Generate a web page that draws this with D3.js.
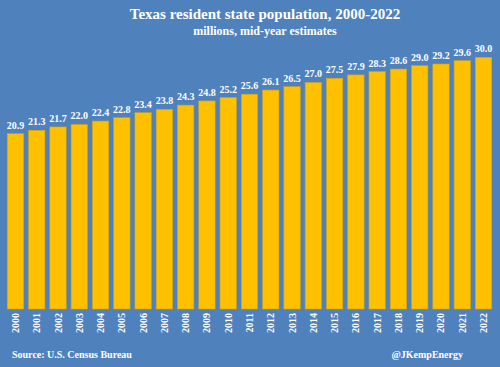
<!DOCTYPE html>
<html lang="en">
<head>
    <meta charset="utf-8"/>
    <title>Texas resident state population</title>
    <script src="https://d3js.org/d3.v7.min.js"></script>
    <style>
        body { margin: 0; background: #4f81bd; }
        #chart { width: 500px; height: 367px; }
        text { font-family: "Liberation Serif", serif; font-weight: bold; fill: #fff; }
    </style>
</head>
<body>
    <div id="chart"></div>

    <script>
        const years = ["2000","2001","2002","2003","2004","2005","2006","2007","2008","2009","2010","2011",
                       "2012","2013","2014","2015","2016","2017","2018","2019","2020","2021","2022"];
        const population = [20.9, 21.3, 21.7, 22.0, 22.4, 22.8, 23.4, 23.8, 24.3, 24.8, 25.2, 25.6,
                            26.1, 26.5, 27.0, 27.5, 27.9, 28.3, 28.6, 29.0, 29.2, 29.6, 30.0];

        const width = 500, height = 367;
        const svg = d3.select('#chart').append('svg')
            .attr('width', width)
            .attr('height', height);

        svg.append('rect').attr('width', width).attr('height', height).attr('fill', '#4f81bd');

        // titles
        svg.append('text')
            .attr('x', 265).attr('y', 19)
            .attr('text-anchor', 'middle')
            .style('font-size', '15px')
            .text('Texas resident state population, 2000-2022');
        svg.append('text')
            .attr('x', 265).attr('y', 35)
            .attr('text-anchor', 'middle')
            .style('font-size', '12px')
            .text('millions, mid-year estimates');

        const x = d3.scaleBand()
            .domain(years)
            .range([3, 496])
            .paddingInner(0.23)
            .paddingOuter(0.2);

        const y = d3.scaleLinear()
            .domain([0, 30])
            .range([309, 57.3]);

        // bars
        svg.selectAll('.bar')
            .data(population)
            .enter().append('rect')
            .attr('class', 'bar')
            .attr('x', (d, i) => x(years[i]))
            .attr('y', d => y(d))
            .attr('width', x.bandwidth())
            .attr('height', d => y(0) - y(d))
            .attr('fill', '#ffc000')
            .attr('stroke', '#d9a300')
            .attr('stroke-width', 0.6);

        // value labels
        svg.selectAll('.label')
            .data(population)
            .enter().append('text')
            .attr('class', 'label')
            .attr('x', (d, i) => x(years[i]) + x.bandwidth() / 2)
            .attr('y', d => y(d) - 5)
            .attr('text-anchor', 'middle')
            .style('font-size', '10px')
            .text(d => d.toFixed(1));

        // x axis (rotated year labels)
        const xAxis = svg.append('g')
            .attr('transform', `translate(0,${y(0)})`)
            .call(d3.axisBottom(x).tickSize(0).tickPadding(0));
        xAxis.select('.domain').remove();
        xAxis.selectAll('text')
            .attr('transform', 'rotate(-90)')
            .attr('text-anchor', 'end')
            .attr('x', -4)
            .attr('y', 0)
            .attr('dy', '0.35em')
            .style('font-size', '10px')
            .style('font-family', '"Liberation Serif", serif')
            .attr('fill', '#fff');

        // footer
        svg.append('text')
            .attr('x', 12).attr('y', 358)
            .style('font-size', '10px')
            .text('Source: U.S. Census Bureau');
        svg.append('text')
            .attr('x', 463).attr('y', 358)
            .attr('text-anchor', 'end')
            .style('font-size', '10px')
            .text('@JKempEnergy');
    </script>
</body>
</html>
